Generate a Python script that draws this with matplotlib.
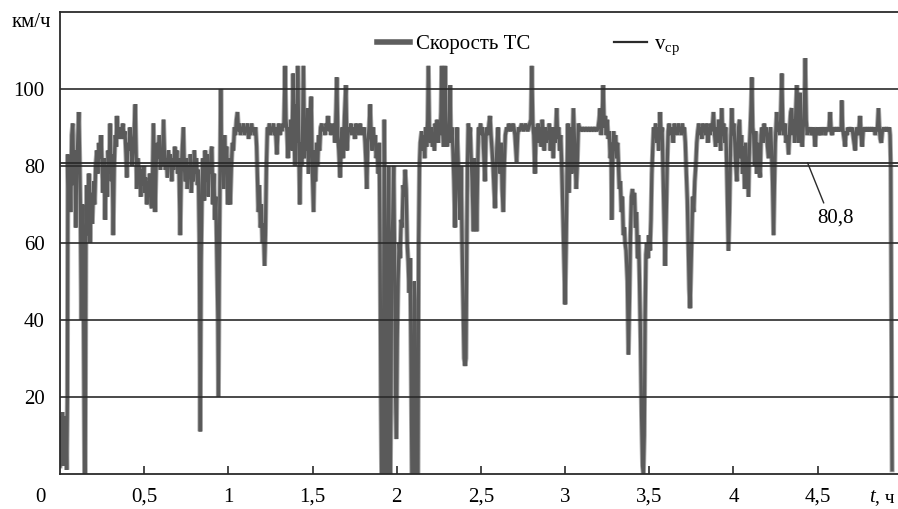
import matplotlib
matplotlib.use("Agg")
import matplotlib.pyplot as plt
import matplotlib.patheffects as pe
from matplotlib.lines import Line2D

plt.rcParams['font.family'] = ['Liberation Serif', 'DejaVu Serif']
plt.rcParams['mathtext.fontset'] = 'custom'
plt.rcParams['mathtext.rm'] = 'Liberation Serif'
plt.rcParams['mathtext.it'] = 'Liberation Serif:italic'

# время, ч
t_h = [
    0.000, 0.006, 0.010, 0.015, 0.020, 0.025, 0.030, 0.035, 0.040, 0.044, 0.047, 0.053, 0.058, 0.064, 0.070, 0.076,
    0.082, 0.088, 0.094, 0.100, 0.106, 0.112, 0.117, 0.122, 0.127, 0.131, 0.136, 0.142, 0.146, 0.150, 0.154, 0.160,
    0.166, 0.172, 0.178, 0.185, 0.192, 0.200, 0.206, 0.212, 0.219, 0.225, 0.232, 0.238, 0.244, 0.250, 0.256, 0.262,
    0.268, 0.274, 0.280, 0.286, 0.292, 0.298, 0.304, 0.310, 0.316, 0.322, 0.328, 0.334, 0.338, 0.344, 0.350, 0.356,
    0.362, 0.368, 0.374, 0.380, 0.386, 0.392, 0.397, 0.403, 0.410, 0.416, 0.422, 0.428, 0.434, 0.440, 0.447, 0.452,
    0.456, 0.462, 0.468, 0.474, 0.480, 0.486, 0.492, 0.498, 0.504, 0.510, 0.516, 0.522, 0.528, 0.534, 0.540, 0.546,
    0.551, 0.555, 0.560, 0.565, 0.571, 0.577, 0.583, 0.590, 0.596, 0.602, 0.609, 0.615, 0.620, 0.626, 0.632, 0.638,
    0.644, 0.650, 0.656, 0.664, 0.670, 0.676, 0.682, 0.688, 0.694, 0.700, 0.706, 0.714, 0.720, 0.726, 0.733, 0.738,
    0.744, 0.750, 0.756, 0.762, 0.768, 0.774, 0.780, 0.786, 0.792, 0.798, 0.804, 0.810, 0.816, 0.822, 0.828, 0.833,
    0.838, 0.844, 0.850, 0.856, 0.862, 0.868, 0.874, 0.880, 0.886, 0.892, 0.898, 0.902, 0.908, 0.914, 0.920, 0.926,
    0.932, 0.938, 0.941, 0.945, 0.950, 0.955, 0.960, 0.966, 0.972, 0.978, 0.984, 0.990,
    0.996, 1.002, 1.008, 1.011, 1.018, 1.024, 1.030, 1.036, 1.042, 1.048, 1.054, 1.060, 1.066, 1.072, 1.078, 1.084,
    1.090, 1.096, 1.102, 1.108, 1.114, 1.120, 1.126, 1.132, 1.138, 1.144, 1.150, 1.156, 1.162, 1.168, 1.172, 1.178,
    1.184, 1.190, 1.196, 1.202, 1.208, 1.215, 1.220, 1.226, 1.232, 1.238, 1.244, 1.250, 1.256, 1.262, 1.268, 1.274,
    1.280, 1.288, 1.294, 1.300, 1.306, 1.312, 1.318, 1.324, 1.330, 1.337, 1.342, 1.348, 1.354, 1.360, 1.366, 1.372,
    1.378, 1.385, 1.391, 1.397, 1.402, 1.407, 1.412, 1.418, 1.424, 1.430, 1.436, 1.441, 1.446, 1.452, 1.458, 1.464,
    1.470, 1.476, 1.482, 1.487, 1.492, 1.498, 1.506, 1.512, 1.518, 1.524, 1.530, 1.536, 1.542, 1.548, 1.555, 1.562,
    1.568, 1.574, 1.580, 1.586, 1.592, 1.598, 1.604, 1.610, 1.616, 1.622, 1.628, 1.634, 1.640, 1.644, 1.650, 1.656,
    1.664, 1.670, 1.676, 1.682, 1.690, 1.698, 1.704, 1.710, 1.716, 1.722, 1.728, 1.734, 1.740, 1.746, 1.752, 1.758,
    1.764, 1.770, 1.776, 1.782, 1.788, 1.794, 1.800, 1.806, 1.812, 1.818, 1.822, 1.828, 1.836, 1.842, 1.848, 1.854,
    1.860, 1.866, 1.872, 1.878, 1.884, 1.890, 1.896, 1.901, 1.906, 1.910, 1.918, 1.922, 1.926, 1.931, 1.936, 1.944,
    1.948, 1.952, 1.957, 1.962, 1.966, 1.970, 1.976, 1.982, 1.988, 1.993, 1.998, 2.003, 2.008, 2.014, 2.020, 2.026,
    2.032, 2.038, 2.044, 2.050, 2.056, 2.062, 2.068, 2.074, 2.080, 2.085, 2.090, 2.100, 2.104, 2.108, 2.112, 2.126,
    2.130, 2.135, 2.140, 2.148, 2.154, 2.160, 2.166, 2.172, 2.178, 2.184, 2.188, 2.194, 2.200, 2.206, 2.212, 2.218,
    2.224, 2.228, 2.234, 2.240, 2.246, 2.252, 2.258, 2.263, 2.267, 2.272, 2.278, 2.283, 2.287, 2.292, 2.298, 2.304,
    2.310, 2.317, 2.322, 2.328, 2.334, 2.340, 2.346, 2.352, 2.358, 2.364, 2.370, 2.376, 2.382, 2.388, 2.394, 2.400,
    2.406, 2.411, 2.416, 2.420, 2.425, 2.430, 2.436, 2.442, 2.448, 2.455, 2.460, 2.465, 2.470, 2.475, 2.480, 2.486,
    2.492, 2.498, 2.504, 2.510, 2.516, 2.524, 2.530, 2.536, 2.542, 2.548, 2.554, 2.560, 2.566, 2.572, 2.578, 2.584,
    2.590, 2.596, 2.602, 2.608, 2.614, 2.620, 2.626, 2.633, 2.638, 2.645, 2.653, 2.660, 2.666, 2.672, 2.678, 2.684,
    2.690, 2.696, 2.702, 2.708, 2.712, 2.718, 2.724, 2.730, 2.736, 2.742, 2.748, 2.754, 2.760, 2.766, 2.772, 2.778,
    2.784, 2.790, 2.797, 2.802, 2.808, 2.814, 2.821, 2.828, 2.834, 2.840, 2.846, 2.852, 2.858, 2.864, 2.870, 2.876,
    2.882, 2.888, 2.894, 2.900, 2.906, 2.912, 2.918, 2.924, 2.930, 2.936, 2.942, 2.950, 2.956, 2.962, 2.968, 2.974,
    2.980, 2.988, 2.994, 3.000,
    3.006, 3.012, 3.017, 3.022, 3.028, 3.034, 3.040, 3.045, 3.049, 3.054, 3.060, 3.066, 3.072, 3.079, 3.085, 3.092,
    3.100, 3.108, 3.116, 3.124, 3.132, 3.140, 3.148, 3.156, 3.164, 3.172, 3.180, 3.188, 3.196, 3.202, 3.208, 3.214,
    3.220, 3.226, 3.232, 3.238, 3.244, 3.250, 3.256, 3.262, 3.268, 3.273, 3.277, 3.282, 3.288, 3.294, 3.300, 3.306,
    3.312, 3.317, 3.322, 3.328, 3.334, 3.340, 3.346, 3.352, 3.356, 3.362, 3.370, 3.376, 3.382, 3.388, 3.394, 3.400,
    3.406, 3.412, 3.418, 3.424, 3.430, 3.436, 3.442, 3.448, 3.454, 3.460, 3.465, 3.470, 3.475, 3.480, 3.486, 3.492,
    3.498, 3.504, 3.510, 3.515, 3.520, 3.526, 3.532, 3.538, 3.544, 3.550, 3.556, 3.564, 3.570, 3.576, 3.582, 3.588,
    3.594, 3.600, 3.606, 3.612, 3.618, 3.624, 3.630, 3.636, 3.642, 3.648, 3.654, 3.660, 3.666, 3.672, 3.678, 3.684,
    3.690, 3.696, 3.702, 3.708, 3.714, 3.720, 3.726, 3.732, 3.737, 3.742, 3.747, 3.752, 3.758, 3.764, 3.770, 3.776,
    3.782, 3.788, 3.794, 3.800, 3.806, 3.812, 3.818, 3.824, 3.830, 3.836, 3.842, 3.848, 3.854, 3.860, 3.866, 3.872,
    3.878, 3.881, 3.888, 3.894, 3.900, 3.906, 3.912, 3.918, 3.924, 3.930, 3.936, 3.942, 3.948, 3.954, 3.960, 3.966,
    3.970, 3.976, 3.982, 3.990, 3.996, 4.002, 4.008, 4.014, 4.020, 4.026, 4.030,
    4.036, 4.042, 4.048, 4.054, 4.060, 4.066, 4.072, 4.079, 4.084, 4.089, 4.094, 4.100, 4.105, 4.109, 4.114, 4.120,
    4.126, 4.132, 4.138, 4.144, 4.150, 4.158, 4.164, 4.170, 4.176, 4.182, 4.188, 4.194, 4.200, 4.208, 4.214, 4.220,
    4.226, 4.232, 4.238, 4.243, 4.248, 4.257, 4.262, 4.268, 4.274, 4.280, 4.287, 4.293, 4.300, 4.306, 4.312, 4.320,
    4.327, 4.334, 4.340, 4.346, 4.352, 4.358, 4.364, 4.370, 4.376, 4.382, 4.388, 4.396, 4.402, 4.408, 4.414, 4.420,
    4.426, 4.432, 4.438, 4.444, 4.450, 4.456, 4.462, 4.468, 4.474, 4.480, 4.485, 4.490, 4.496, 4.502, 4.508, 4.514,
    4.520, 4.526, 4.532, 4.538, 4.544, 4.550, 4.556, 4.562, 4.568, 4.574, 4.580, 4.586, 4.592, 4.598, 4.604, 4.610,
    4.616, 4.622, 4.628, 4.634, 4.640, 4.643, 4.648, 4.654, 4.660, 4.663, 4.668, 4.674, 4.680, 4.686, 4.692, 4.698,
    4.704, 4.710, 4.716, 4.723, 4.728, 4.734, 4.740, 4.746, 4.752, 4.758, 4.764, 4.770, 4.776, 4.782, 4.788, 4.794,
    4.800, 4.806, 4.812, 4.818, 4.824, 4.830, 4.836, 4.842, 4.848, 4.854, 4.861, 4.866, 4.872, 4.878, 4.884, 4.890,
    4.896, 4.901, 4.908, 4.914, 4.920, 4.926, 4.930, 4.934, 4.938, 4.942,
]

# скорость ТС, км/ч
speed = [
    2, 15, 3, 16, 2, 14, 3, 15, 1, 20, 83, 70, 82, 68, 88, 91,
    75, 84, 64, 80, 87, 94, 82, 67, 40, 62, 70, 30, 0, 0, 60, 75,
    62, 78, 60, 73, 65, 76, 70, 80, 84, 78, 86, 82, 88, 80, 73, 82,
    66, 80, 72, 84, 78, 91, 76, 83, 62, 80, 88, 85, 93, 88, 90, 87,
    90, 89, 91, 87, 89, 83, 77, 86, 84, 90, 86, 80, 84, 88, 96, 84,
    74, 82, 78, 80, 72, 79, 75, 80, 73, 77, 70, 76, 72, 78, 70, 69,
    80, 91, 78, 68, 80, 86, 82, 88, 79, 84, 80, 92, 84, 79, 82, 77,
    84, 80, 83, 76, 82, 79, 85, 80, 84, 78, 82, 62, 78, 84, 90, 80,
    76, 82, 74, 80, 77, 83, 73, 80, 76, 84, 78, 82, 75, 79, 60, 11,
    55, 75, 82, 71, 84, 76, 83, 72, 80, 78, 84, 85, 70, 78, 66, 72,
    56, 40, 20, 50, 75, 100, 80, 86, 74, 88, 78, 85,
    70, 82, 76, 70, 80, 86, 84, 90, 88, 92, 94, 89, 91, 88, 90, 89,
    91, 88, 90, 89, 91, 87, 90, 88, 91, 89, 90, 88, 90, 85, 78, 68,
    75, 64, 70, 60, 65, 54, 62, 80, 90, 89, 91, 88, 90, 89, 91, 88,
    90, 83, 89, 91, 88, 90, 89, 91, 90, 106, 92, 89, 82, 90, 86, 92,
    84, 104, 88, 80, 96, 86, 106, 88, 70, 86, 80, 90, 106, 82, 92, 84,
    95, 78, 90, 94, 98, 80, 68, 84, 76, 86, 80, 88, 84, 90, 91, 89,
    90, 88, 91, 90, 93, 89, 91, 88, 90, 89, 91, 86, 95, 103, 88, 84,
    77, 86, 90, 82, 93, 101, 84, 88, 90, 89, 91, 88, 90, 89, 87, 91,
    89, 90, 88, 91, 89, 90, 88, 90, 86, 80, 74, 86, 90, 96, 88, 84,
    90, 86, 88, 82, 85, 78, 86, 60, 20, 0, 0, 40, 92, 60, 0, 0,
    55, 80, 45, 0, 20, 58, 66, 80, 52, 20, 9, 35, 50, 60, 56, 66,
    64, 75, 72, 79, 74, 60, 55, 47, 56, 30, 0, 0, 50, 45, 0, 0,
    60, 80, 86, 89, 84, 88, 82, 90, 85, 92, 106, 88, 86, 90, 85, 88,
    84, 91, 87, 92, 86, 90, 88, 94, 106, 90, 85, 96, 106, 92, 85, 88,
    86, 101, 86, 90, 84, 76, 64, 80, 90, 82, 72, 66, 80, 60, 45, 30,
    28, 30, 60, 80, 91, 88, 90, 82, 76, 63, 82, 74, 80, 63, 78, 90,
    89, 91, 88, 90, 84, 76, 88, 90, 88, 91, 93, 88, 84, 80, 74, 69,
    80, 86, 90, 82, 78, 86, 74, 68, 80, 88, 90, 89, 91, 90, 89, 90,
    91, 90, 88, 84, 81, 88, 90, 89, 90, 91, 90, 89, 90, 91, 90, 89,
    90, 91, 92, 106, 91, 88, 78, 90, 88, 91, 86, 90, 85, 92, 88, 84,
    90, 86, 89, 87, 91, 84, 90, 88, 82, 90, 86, 95, 87, 90, 84, 88,
    80, 66, 55, 44,
    60, 80, 91, 73, 85, 90, 78, 88, 95, 89, 82, 74, 80, 91, 90, 89,
    90, 89, 90, 89, 90, 89, 90, 89, 90, 89, 90, 89, 90, 92, 95, 88,
    92, 101, 90, 93, 88, 92, 87, 89, 82, 86, 66, 80, 89, 84, 88, 82,
    86, 80, 74, 76, 68, 72, 62, 64, 60, 58, 50, 31, 45, 62, 72, 74,
    70, 73, 64, 68, 56, 62, 50, 35, 15, 2, 0, 10, 40, 57, 60, 56,
    62, 58, 66, 78, 84, 90, 88, 91, 86, 90, 84, 94, 88, 90, 78, 66,
    54, 66, 80, 89, 91, 88, 90, 89, 86, 91, 89, 90, 88, 91, 89, 90,
    88, 91, 89, 90, 86, 78, 71, 58, 48, 43, 52, 60, 72, 68, 76, 80,
    86, 89, 91, 88, 90, 87, 91, 89, 90, 88, 91, 86, 90, 88, 91, 89,
    92, 94, 88, 85, 90, 86, 92, 88, 84, 95, 88, 91, 86, 90, 80, 66,
    58, 68, 84, 95, 88, 91, 86, 80, 76, 84, 90,
    92, 82, 88, 78, 85, 74, 86, 74, 80, 72, 84, 90, 96, 103, 90, 88,
    80, 89, 78, 86, 80, 77, 88, 90, 86, 91, 88, 90, 86, 82, 88, 90,
    84, 76, 62, 75, 86, 94, 89, 91, 88, 92, 104, 90, 88, 91, 86, 88,
    83, 90, 94, 95, 88, 92, 86, 94, 101, 90, 86, 99, 90, 85, 90, 92,
    108, 92, 88, 90, 89, 90, 88, 89, 90, 88, 85, 89, 90, 88, 90, 89,
    88, 90, 89, 90, 88, 89, 90, 89, 90, 94, 89, 88, 90, 89, 90, 89,
    90, 89, 90, 89, 90, 97, 90, 88, 86, 85, 89, 88, 90, 89, 90, 89,
    90, 88, 86, 84, 89, 90, 88, 90, 93, 88, 85, 89, 90, 89, 90, 89,
    90, 89, 90, 89, 90, 89, 90, 88, 90, 89, 95, 90, 87, 86, 89, 90,
    89, 90, 89, 90, 89, 90, 88, 80, 40, 1,
]

v_avg = 80.8
x_ticks = [0.5, 1, 1.5, 2, 2.5, 3, 3.5, 4, 4.5]
x_labels = ['0,5', '1', '1,5', '2', '2,5', '3', '3,5', '4', '4,5']
y_ticks = [20, 40, 60, 80, 100]

fig = plt.figure(figsize=(8.98, 5.09), dpi=100)
ax = fig.add_axes([0.0668, 0.0694, 0.9332, 0.907])

ax.plot(t_h, speed, color='#5a5a5a', lw=2.3, solid_joinstyle='bevel',
        path_effects=[pe.Stroke(linewidth=3.6, foreground='#a9a9a9'), pe.Normal()], zorder=2)
ax.axhline(v_avg, color='#2b2b2b', lw=1.3, zorder=3)

ax.set_xlim(0, 4.977)
ax.set_ylim(0, 120)
ax.set_xticks(x_ticks)
ax.set_xticklabels(x_labels)
ax.set_yticks(y_ticks)
ax.set_yticklabels([str(y) for y in y_ticks])
ax.tick_params(axis='x', direction='in', length=6, width=1.2, color='#2b2b2b', pad=10, labelsize=15)
ax.tick_params(axis='y', length=0, pad=11, labelsize=15)

ax.set_axisbelow(False)
ax.grid(axis='y', color='#2b2b2b', lw=1.2)
for s in ['left', 'top', 'bottom']:
    ax.spines[s].set_color('#2b2b2b')
    ax.spines[s].set_linewidth(1.3)
ax.spines['right'].set_visible(False)

ax.text(-0.118, -6.2, '0', fontsize=15, ha='center', va='center', clip_on=False)
ax.text(-0.171, 117.3, 'км/ч', fontsize=15, ha='center', va='center', clip_on=False)
ax.text(4.84, -6.2, 't', fontsize=15, fontstyle='italic', ha='right', va='center', clip_on=False)
ax.text(4.843, -6.2, ', ч', fontsize=14, ha='left', va='center', clip_on=False)

ax.annotate('80,8', xy=(4.44, v_avg), xytext=(4.603, 66.5), fontsize=15, ha='center', va='center',
            arrowprops=dict(arrowstyle='-', color='#2b2b2b', lw=1.0, relpos=(0.25, 1.0), shrinkA=2, shrinkB=0))

handles = [Line2D([], [], color='#5e5e5e', lw=4.0),
           Line2D([], [], color='#2b2b2b', lw=1.6)]
ax.legend(handles, ['Скорость ТС', r'v$_{\rm ср}$'], loc='center left', bbox_to_anchor=(0.378, 0.926),
          ncol=2, frameon=False, fontsize=15, handlelength=1.6, handletextpad=0.3, columnspacing=4.0,
          borderpad=0, borderaxespad=0)

fig.savefig('out.png', dpi=100)
